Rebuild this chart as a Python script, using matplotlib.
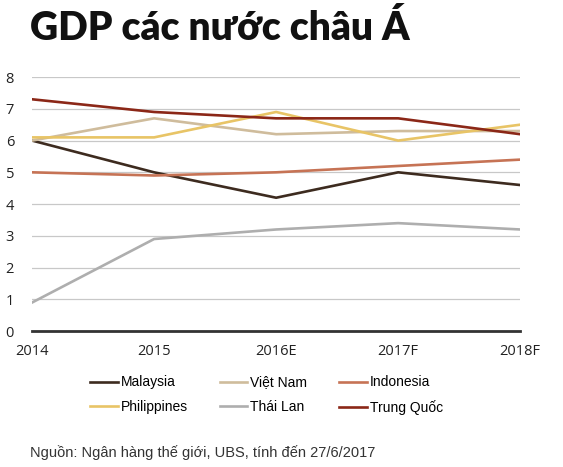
import numpy as np
from matplotlib import pyplot as plt

years = ['2014', '2015', '2016E', '2017F', '2018F']
malaysia = [6.0, 5.0, 4.2, 5.0, 4.6]
vietnam = [6.0, 6.7, 6.2, 6.3, 6.3]
indonesia = [5.0, 4.9, 5.0, 5.2, 5.4]
philippines = [6.1, 6.1, 6.9, 6.0, 6.5]
thailand = [0.9, 2.9, 3.2, 3.4, 3.2]
china = [7.3, 6.9, 6.7, 6.7, 6.2]

fig = plt.figure(figsize=(5.63, 4.67), dpi=100)
ax = fig.add_axes([0.057, 0.291, 0.867, 0.544])

x = np.arange(len(years))
l1, = ax.plot(x, malaysia, color='#3d2b1f', lw=1.9, label='Malaysia')
l2, = ax.plot(x, vietnam, color='#cfbc9c', lw=1.9, label='Việt Nam')
l3, = ax.plot(x, indonesia, color='#c67355', lw=1.9, label='Indonesia')
l4, = ax.plot(x, philippines, color='#e8c466', lw=1.9, label='Philippines')
l5, = ax.plot(x, thailand, color='#aeaeae', lw=1.9, label='Thái Lan')
l6, = ax.plot(x, china, color='#8b2717', lw=1.9, label='Trung Quốc')

ax.set_xlim(0, 4)
ax.set_ylim(0, 8)
ax.set_yticks(range(0, 9))
ax.set_xticks(x)
ax.set_xticklabels(years)
ax.grid(axis='y', color='#c8c8c8', lw=0.9)
ax.set_axisbelow(True)
for s in ['top', 'right', 'left']:
    ax.spines[s].set_visible(False)
ax.spines['bottom'].set_color('#333333')
ax.spines['bottom'].set_linewidth(2)
ax.tick_params(length=0, labelsize=10.5, colors='#222222', pad=9)
for t in ax.get_xticklabels() + ax.get_yticklabels():
    t.set_family('Open Sans')
ax.tick_params(axis='y', pad=13)

fig.text(0.053, 0.94, 'GDP các nước châu Á', fontsize=28, fontweight='heavy',
         family='Lato', color='#111111', va='center')

fig.legend([l1, l4, l2, l5, l3, l6],
           ['Malaysia', 'Philippines', 'Việt Nam', 'Thái Lan', 'Indonesia', 'Trung Quốc'],
           ncol=3, loc='center', bbox_to_anchor=(0.473, 0.154), frameon=False,
           prop={'family': 'Liberation Sans', 'size': 10}, handlelength=2.0,
           handletextpad=0.2, columnspacing=2.3, labelspacing=0.75)

fig.text(0.053, 0.03, 'Nguồn: Ngân hàng thế giới, UBS, tính đến 27/6/2017',
         fontsize=10.5, family='Liberation Sans', color='#333333', va='center')

fig.savefig('out.png', dpi=100)
